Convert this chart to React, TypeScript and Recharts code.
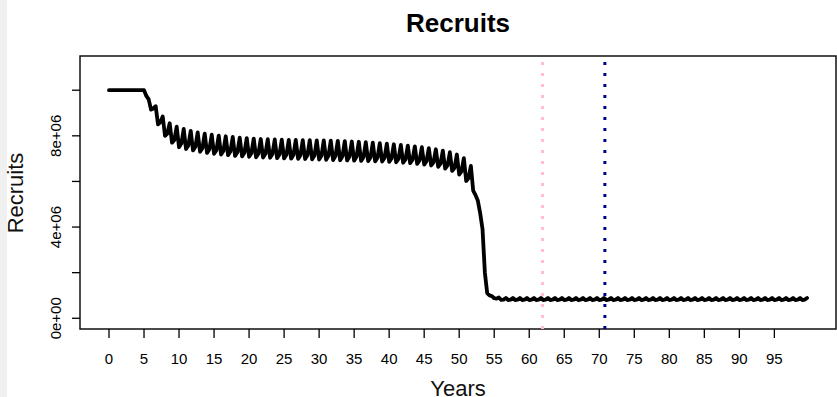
import { LineChart, Line, XAxis, YAxis, ReferenceLine, ReferenceArea } from 'recharts';

const FONT = "'Liberation Sans', Arial, Helvetica, sans-serif";

const years = Array.from({ length: 100 }, (_, i) => i);

// recruits (millions) at the start of each year
const lows = [
  10, 10, 10, 10, 10, 10, 9.15, 8.5, 8.0, 7.7,
  7.5, 7.42, 7.36, 7.3, 7.25, 7.21, 7.18, 7.15, 7.12, 7.1,
  7.08, 7.06, 7.05, 7.04, 7.02, 7.01, 7.0, 6.99, 6.98, 6.97,
  6.96, 6.95, 6.94, 6.93, 6.92, 6.91, 6.9, 6.89, 6.88, 6.87,
  6.86, 6.84, 6.82, 6.8, 6.77, 6.74, 6.7, 6.64, 6.56, 6.46,
  6.3, 6.02, 5.6, 4.6, 1.1, 0.88, 0.81, 0.8, 0.8, 0.8,
  0.8, 0.8, 0.8, 0.8, 0.8, 0.8, 0.8, 0.8, 0.8, 0.8,
  0.8, 0.8, 0.8, 0.8, 0.8, 0.8, 0.8, 0.8, 0.8, 0.8,
  0.8, 0.8, 0.8, 0.8, 0.8, 0.8, 0.8, 0.8, 0.8, 0.8,
  0.8, 0.8, 0.8, 0.8, 0.8, 0.8, 0.8, 0.8, 0.8, 0.8,
];

// recruits (millions) a third of the way through each year
const mids = [
  10, 10, 10, 10, 10, 9.75, 9.2, 8.6, 8.1, 7.82,
  7.66, 7.58, 7.52, 7.46, 7.41, 7.37, 7.34, 7.31, 7.28, 7.26,
  7.24, 7.22, 7.21, 7.2, 7.18, 7.17, 7.16, 7.15, 7.15, 7.14,
  7.13, 7.12, 7.11, 7.1, 7.09, 7.08, 7.06, 7.05, 7.04, 7.03,
  7.01, 6.99, 6.97, 6.95, 6.92, 6.89, 6.84, 6.78, 6.7, 6.6,
  6.44, 6.15, 5.4, 3.9, 1.0, 0.86, 0.82, 0.82, 0.82, 0.82,
  0.82, 0.82, 0.82, 0.82, 0.82, 0.82, 0.82, 0.82, 0.82, 0.82,
  0.82, 0.82, 0.82, 0.82, 0.82, 0.82, 0.82, 0.82, 0.82, 0.82,
  0.82, 0.82, 0.82, 0.82, 0.82, 0.82, 0.82, 0.82, 0.82, 0.82,
  0.82, 0.82, 0.82, 0.82, 0.82, 0.82, 0.82, 0.82, 0.82, 0.82,
];

// recruits (millions) at the seasonal peak, two thirds of the way through each year
const peaks = [
  10, 10, 10, 10, 10, 9.6, 9.3, 8.85, 8.55, 8.4,
  8.3, 8.22, 8.15, 8.1, 8.05, 8.01, 7.98, 7.95, 7.92, 7.9,
  7.88, 7.86, 7.85, 7.84, 7.83, 7.82, 7.82, 7.81, 7.81, 7.8,
  7.8, 7.79, 7.78, 7.77, 7.75, 7.74, 7.72, 7.7, 7.68, 7.66,
  7.63, 7.6, 7.57, 7.54, 7.5, 7.46, 7.41, 7.35, 7.28, 7.18,
  7.02, 6.68, 5.15, 2.0, 0.97, 0.91, 0.89, 0.89, 0.89, 0.89,
  0.89, 0.89, 0.89, 0.89, 0.89, 0.89, 0.89, 0.89, 0.89, 0.89,
  0.89, 0.89, 0.89, 0.89, 0.89, 0.89, 0.89, 0.89, 0.89, 0.89,
  0.89, 0.89, 0.89, 0.89, 0.89, 0.89, 0.89, 0.89, 0.89, 0.89,
  0.89, 0.89, 0.89, 0.89, 0.89, 0.89, 0.89, 0.89, 0.89, 0.89,
];

const xTicks = [0, 5, 10, 15, 20, 25, 30, 35, 40, 45, 50, 55, 60, 65, 70, 75, 80, 85, 90, 95];
const yTicks = [0, 2e6, 4e6, 6e6, 8e6, 1e7];
const yLabelled = [0, 4e6, 8e6];

const pinkYear = 61.9;
const blueYear = 70.8;

const xDomain: [number, number] = [-4.14, 103.8];
const yDomain: [number, number] = [-0.47e6, 11.5e6];

const data = years.flatMap((yr, i) => [
  { t: yr, v: lows[i] * 1e6 },
  { t: yr + 1 / 3, v: mids[i] * 1e6 },
  { t: yr + 2 / 3, v: peaks[i] * 1e6 },
]);

function sci(v: number) {
  if (v === 0) return '0e+00';
  const e = Math.floor(Math.log10(v));
  const m = Math.round(v / Math.pow(10, e));
  return m + 'e+' + String(e).padStart(2, '0');
}

function YTick(props: any) {
  const { x, y, payload } = props;
  if (!yLabelled.includes(payload.value)) return <g />;
  return (
    <text x={x} y={y} transform={`rotate(-90 ${x} ${y})`} textAnchor='middle'
      fontSize={15} fill='#000' fontFamily={FONT}>
      {sci(payload.value)}
    </text>
  );
}

export default function App() {
  return (
    <div style={{ position: 'absolute', left: 0, top: 0, width: 837, height: 397, background: '#fff' }}>
      <div style={{ position: 'absolute', left: 0, top: 0, width: 7, height: 397, background: '#f0f0f0' }} />
      <LineChart width={837} height={397} data={data} margin={{ top: 56, right: 1, left: 0, bottom: 0 }}>
        <XAxis
          dataKey='t'
          type='number'
          domain={xDomain}
          allowDataOverflow
          ticks={xTicks}
          interval={0}
          height={68}
          axisLine={false}
          tickSize={9}
          tickMargin={15}
          tickLine={{ stroke: '#000', strokeWidth: 1.3 }}
          tick={{ fontSize: 15, fill: '#000', fontFamily: FONT }}
        />
        <YAxis
          type='number'
          domain={yDomain}
          allowDataOverflow
          ticks={yTicks}
          interval={0}
          width={80}
          axisLine={false}
          tickSize={8}
          tickMargin={11}
          tickLine={{ stroke: '#000', strokeWidth: 1.3 }}
          tick={<YTick />}
        />
        <Line
          type='linear'
          dataKey='v'
          stroke='#000'
          strokeWidth={3.8}
          strokeLinejoin='round'
          strokeLinecap='round'
          dot={false}
          activeDot={false}
          isAnimationActive={false}
        />
        <ReferenceLine x={pinkYear} stroke='#FFC0CB' strokeWidth={3} strokeDasharray='3 8' />
        <ReferenceLine x={blueYear} stroke='#00008B' strokeWidth={3} strokeDasharray='3 8' />
        <ReferenceArea
          x1={xDomain[0]} x2={xDomain[1]} y1={yDomain[0]} y2={yDomain[1]}
          fill='none' stroke='#111' strokeWidth={1.5} ifOverflow='visible'
        />
      </LineChart>
      <svg width={837} height={397} style={{ position: 'absolute', left: 0, top: 0, pointerEvents: 'none' }}>
        <text x={458} y={32} textAnchor='middle' fontSize={26} fontWeight='bold' fill='#000' fontFamily={FONT}>Recruits</text>
        <text x={23} y={193} transform='rotate(-90 23 193)' textAnchor='middle' fontSize={22} fill='#111' fontFamily={FONT}>Recruits</text>
        <text x={458} y={396} textAnchor='middle' fontSize={22} fill='#111' fontFamily={FONT}>Years</text>
      </svg>
    </div>
  );
}
